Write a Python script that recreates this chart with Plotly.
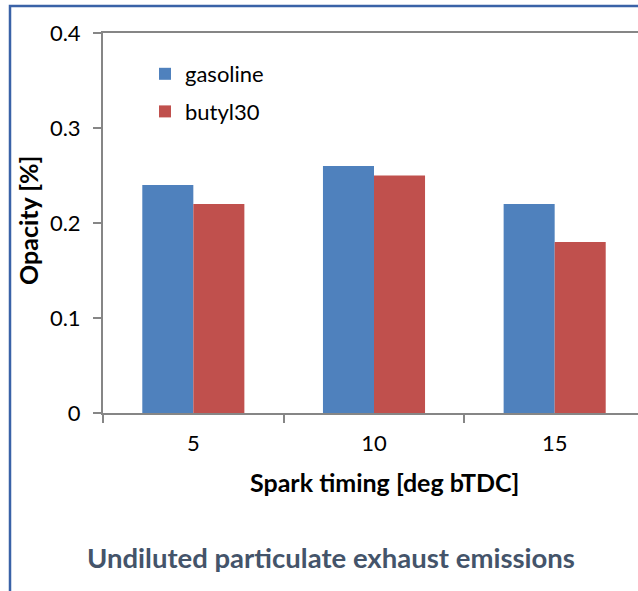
import plotly.graph_objects as go

# Spark timing settings (deg bTDC) and measured opacity per fuel
timing = ["5", "10", "15"]
gasoline = [0.24, 0.26, 0.22]
butyl30 = [0.22, 0.25, 0.18]

W, H = 638, 591
L, R, T, B = 103, 0, 33, 178
PW, PH = W - L - R, H - T - B

def px(x):
    return (x - L) / PW

def py(y):
    return (H - B - y) / PH

FONT = "Lato, 'Open Sans', sans-serif"

fig = go.Figure()
fig.add_trace(go.Bar(x=timing, y=gasoline, name="gasoline",
                     marker=dict(color="#4F81BD", line=dict(width=0)),
                     legendgroup="g"))
fig.add_trace(go.Bar(x=timing, y=butyl30, name="butyl30",
                     marker=dict(color="#C0504D", line=dict(width=0)),
                     legendgroup="b"))

fig.update_layout(
    width=W, height=H,
    margin=dict(l=L, r=R, t=T, b=B, pad=0),
    paper_bgcolor="white", plot_bgcolor="white",
    barmode="group", bargap=0.435, bargroupgap=0,
    font=dict(family=FONT, size=22, color="black"),
    legend=dict(x=px(145), y=py(53), xanchor="left", yanchor="top",
                bgcolor="rgba(0,0,0,0)", font=dict(size=22),
                tracegroupgap=6, itemwidth=30),
    xaxis=dict(type="category", range=[-0.5, 2.5 - (645 - 638) / 180.5],
               showline=True, linecolor="#868686", linewidth=2, mirror=True,
               ticks="outside", tickson="boundaries", ticklen=8,
               tickcolor="#868686", tickwidth=1.5, showgrid=False,
               tickfont=dict(size=22), ticklabelstandoff=10),
    yaxis=dict(range=[0, 0.4], dtick=0.1, tickformat="",
               showline=True, linecolor="#868686", linewidth=2,
               ticks="outside", ticklen=8, tickcolor="#868686", tickwidth=1.5,
               showgrid=False, zeroline=False, tickfont=dict(size=22),
               ticklabelstandoff=8),
    showlegend=True,
)

# axis titles and chart caption
fig.add_annotation(text="<b>Opacity [%]</b>", x=px(28), y=py(221),
                   xref="paper", yref="paper", textangle=-90,
                   xanchor="center", yanchor="middle",
                   showarrow=False, font=dict(size=25))
fig.add_annotation(text="<b>Spark timing [deg bTDC]</b>", x=px(384), y=py(482),
                   xref="paper", yref="paper", xanchor="center", yanchor="middle",
                   showarrow=False, font=dict(size=25))
fig.add_annotation(text="<b>Undiluted particulate exhaust emissions</b>",
                   x=px(331), y=py(557), xref="paper", yref="paper",
                   xanchor="center", yanchor="middle",
                   showarrow=False, font=dict(size=27.5, color="#44546A"))

# outer frame of the chart
fig.add_shape(type="rect", xref="paper", yref="paper",
              x0=px(10), x1=px(660), y0=py(610), y1=py(6),
              line=dict(color="#3A62A7", width=2.5), layer="above")

fig.write_html("out.html")
